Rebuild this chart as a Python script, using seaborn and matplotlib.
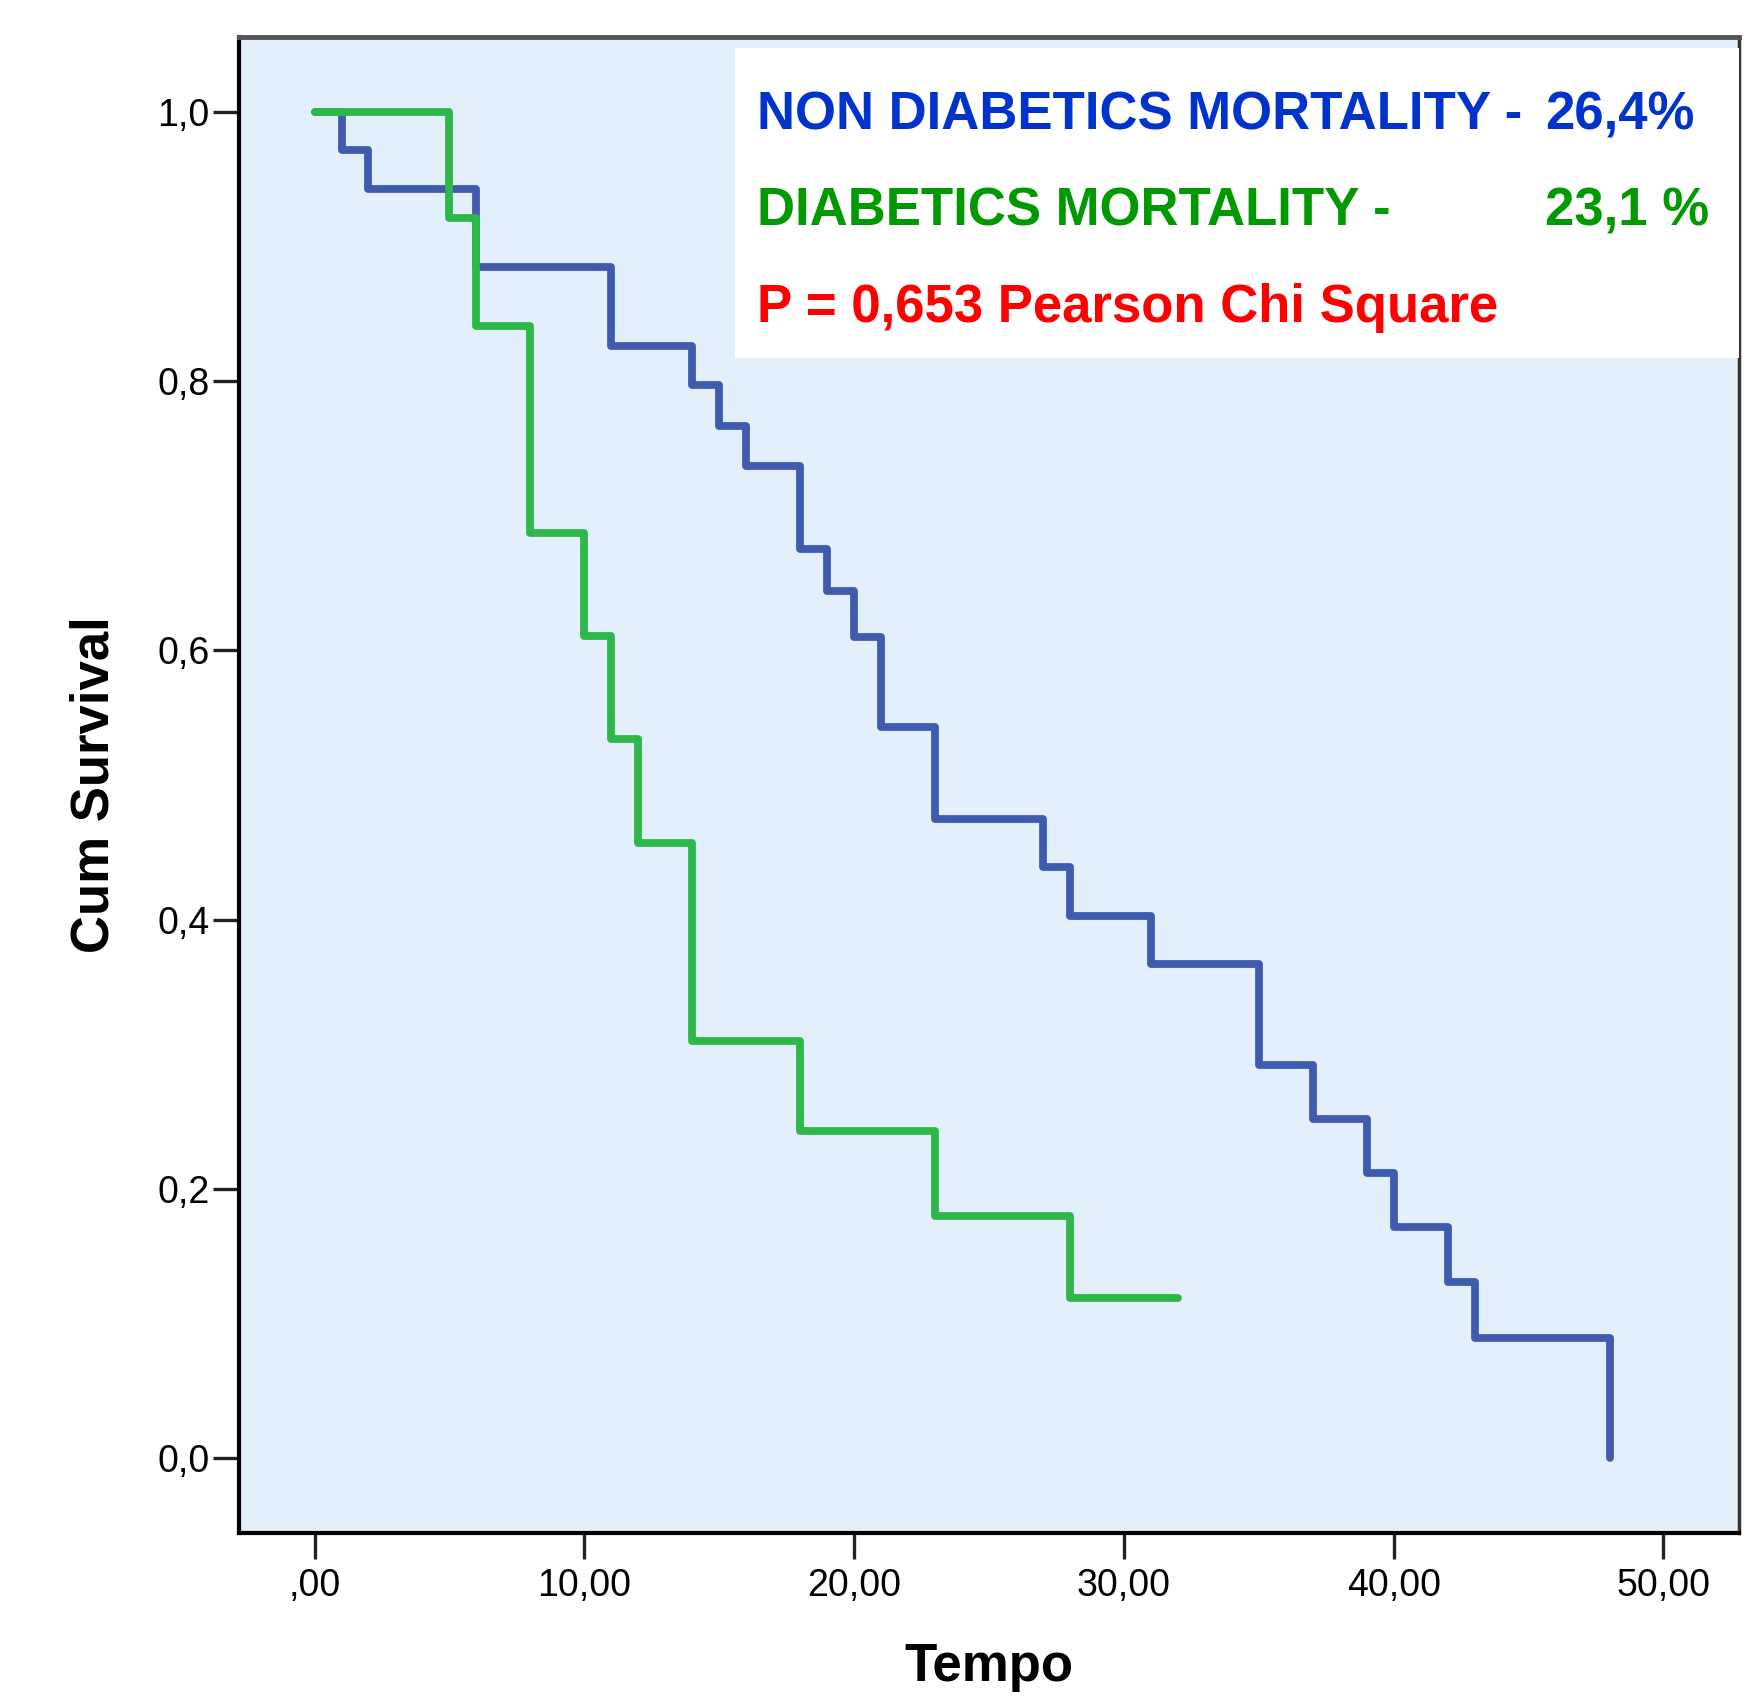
import numpy as np
import pandas as pd
import matplotlib
matplotlib.use("Agg")
import matplotlib.pyplot as plt
from matplotlib.patches import Rectangle
import seaborn as sns

# ---- data ----
non_diab_time = [0, 1, 2, 6, 11, 14, 15, 16, 18, 19, 20, 21, 23, 27, 28, 31, 35, 37, 39, 40, 42, 43, 48]
non_diab_surv = [1.0, 0.972, 0.943, 0.885, 0.826, 0.797, 0.767, 0.737, 0.675, 0.644, 0.610, 0.543,
                 0.475, 0.439, 0.403, 0.367, 0.292, 0.252, 0.212, 0.172, 0.131, 0.089, 0.0]
diab_time = [0, 5, 6, 8, 10, 11, 12, 14, 18, 23, 28, 32]
diab_surv = [1.0, 0.921, 0.841, 0.687, 0.611, 0.534, 0.457, 0.310, 0.243, 0.180, 0.119, 0.119]

group_names = ["Non diabetics", "Diabetics"]
x_ticks = [0, 10, 20, 30, 40, 50]
x_tick_labels = [",00", "10,00", "20,00", "30,00", "40,00", "50,00"]
y_ticks = [0.0, 0.2, 0.4, 0.6, 0.8, 1.0]
y_tick_labels = ["0,0", "0,2", "0,4", "0,6", "0,8", "1,0"]
text_non = "NON DIABETICS MORTALITY -"
pct_non = "26,4%"
text_diab = "DIABETICS MORTALITY -"
pct_diab = "23,1 %"
text_p = "P = 0,653 Pearson Chi Square"
x_label = "Tempo"
y_label = "Cum Survival"

df = pd.concat([
    pd.DataFrame({"Tempo": non_diab_time, "Survival": non_diab_surv, "Group": group_names[0]}),
    pd.DataFrame({"Tempo": diab_time, "Survival": diab_surv, "Group": group_names[1]}),
], ignore_index=True)

sns.set_style("white")
plt.rcParams["font.family"] = ["Liberation Sans", "DejaVu Sans"]
plt.rcParams["text.color"] = "black"

W, H = 1762, 1696
fig = plt.figure(figsize=(W / 100, H / 100), dpi=100)
ax_l, ax_r, ax_t, ax_b = 239, 1739, 37, 1533
ax = fig.add_axes([ax_l / W, 1 - ax_b / H, (ax_r - ax_l) / W, (ax_b - ax_t) / H])
ax.set_facecolor("#E3EFFB")

palette = {group_names[0]: "#3F5BAE", group_names[1]: "#2FB84A"}
sns.lineplot(data=df, x="Tempo", y="Survival", hue="Group", hue_order=group_names,
             palette=palette, drawstyle="steps-post", linewidth=5.6, estimator=None,
             legend=False, ax=ax, zorder=3)

ax.set_xlim(-2.8, 52.8)
ax.set_ylim(-0.0557, 1.0557)
ax.set_xticks(x_ticks)
ax.set_xticklabels(x_tick_labels)
ax.set_yticks(y_ticks)
ax.set_yticklabels(y_tick_labels)
ax.tick_params(axis="both", direction="out", length=19, width=2.4, color="#222222",
               labelsize=27, labelcolor="black", bottom=True, left=True)
ax.tick_params(axis="x", pad=6)
ax.tick_params(axis="y", pad=2)
ax.set_xlabel("")
ax.set_ylabel("")

for side in ["left", "bottom"]:
    ax.spines[side].set_color("black")
    ax.spines[side].set_linewidth(3)
ax.spines["top"].set_color("#555555")
ax.spines["top"].set_linewidth(3.5)
ax.spines["right"].set_color("#333333")
ax.spines["right"].set_linewidth(2.5)

# white annotation box
bx0 = (735 - ax_l) / (ax_r - ax_l)
by0 = (ax_b - 358) / (ax_b - ax_t)
by1 = (ax_b - 48) / (ax_b - ax_t)
ax.add_patch(Rectangle((bx0, by0), 1 - bx0, by1 - by0, transform=ax.transAxes,
                       facecolor="white", edgecolor="none", zorder=4))

tx = (757 - ax_l) / (ax_r - ax_l)
px = (1545 - ax_l) / (ax_r - ax_l)
def yb(pix):
    return (ax_b - pix) / (ax_b - ax_t)

fs = 38
ax.text(tx, yb(130), text_non, transform=ax.transAxes, color="#0033CC", fontsize=fs,
        fontweight="bold", va="baseline", ha="left", zorder=5)
ax.text(px, yb(130), pct_non, transform=ax.transAxes, color="#0033CC", fontsize=fs,
        fontweight="bold", va="baseline", ha="left", zorder=5)
ax.text(tx, yb(226), text_diab, transform=ax.transAxes, color="#009900", fontsize=fs,
        fontweight="bold", va="baseline", ha="left", zorder=5)
ax.text(px, yb(226), pct_diab, transform=ax.transAxes, color="#009900", fontsize=fs,
        fontweight="bold", va="baseline", ha="left", zorder=5)
ax.text(tx, yb(322), text_p, transform=ax.transAxes, color="#FF0000", fontsize=fs,
        fontweight="bold", va="baseline", ha="left", zorder=5)

# axis labels
ax.text((94 - ax_l) / (ax_r - ax_l), 0.5, y_label, transform=ax.transAxes, rotation=90,
        fontsize=38, fontweight="bold", ha="center", va="center", color="black")
ax.text(0.5, yb(1681), x_label, transform=ax.transAxes, fontsize=38, fontweight="bold",
        ha="center", va="baseline", color="black")

fig.savefig("out.png", dpi=100, facecolor="white")
